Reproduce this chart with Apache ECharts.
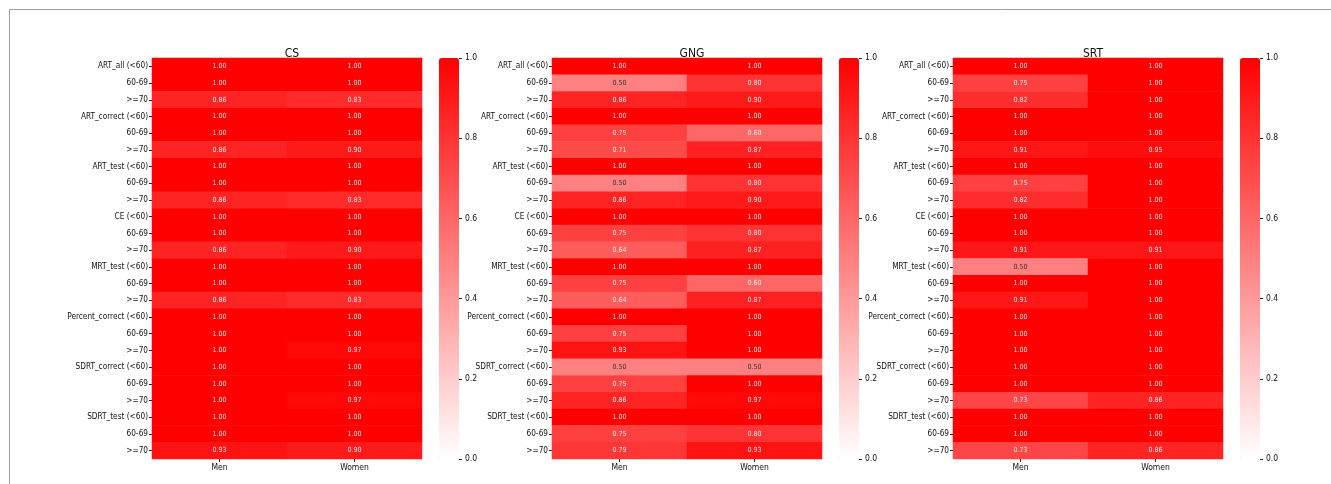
<!DOCTYPE html>
<html lang="en">
<head>
    <meta charset="UTF-8">
    <title>CS / GNG / SRT heatmaps</title>
    <style>
        body { margin: 0; background: #fff; }
        #chart { width: 1331px; height: 484px; }
    </style>
    <script src="https://cdn.jsdelivr.net/npm/echarts/dist/echarts.min.js"></script>
</head>
<body>
<div id="chart"></div>
<script>
    // Data
    var rowLabels = [
        'ART_all (<60)', '60-69', '>=70',
        'ART_correct (<60)', '60-69', '>=70',
        'ART_test (<60)', '60-69', '>=70',
        'CE (<60)', '60-69', '>=70',
        'MRT_test (<60)', '60-69', '>=70',
        'Percent_correct (<60)', '60-69', '>=70',
        'SDRT_correct (<60)', '60-69', '>=70',
        'SDRT_test (<60)', '60-69', '>=70'
    ];
    var sexes = ['Men', 'Women'];
    var panelTitles = ['CS', 'GNG', 'SRT'];

    var csMen   = [1, 1, 0.86, 1, 1, 0.86, 1, 1, 0.86, 1, 1, 0.86, 1, 1, 0.86, 1, 1, 1, 1, 1, 1, 1, 1, 0.93];
    var csWomen = [1, 1, 0.83, 1, 1, 0.90, 1, 1, 0.83, 1, 1, 0.90, 1, 1, 0.83, 1, 1, 0.97, 1, 1, 0.97, 1, 1, 0.90];
    var gngMen   = [1, 0.50, 0.86, 1, 0.75, 0.71, 1, 0.50, 0.86, 1, 0.75, 0.64, 1, 0.75, 0.64, 1, 0.75, 0.93, 0.50, 0.75, 0.86, 1, 0.75, 0.79];
    var gngWomen = [1, 0.80, 0.90, 1, 0.60, 0.87, 1, 0.80, 0.90, 1, 0.80, 0.87, 1, 0.60, 0.87, 1, 1, 1, 0.50, 1, 0.97, 1, 0.80, 0.93];
    var srtMen   = [1, 0.75, 0.82, 1, 1, 0.91, 1, 0.75, 0.82, 1, 1, 0.91, 0.50, 1, 0.91, 1, 1, 1, 1, 1, 0.73, 1, 1, 0.73];
    var srtWomen = [1, 1, 1, 1, 1, 0.95, 1, 1, 1, 1, 1, 0.91, 1, 1, 1, 1, 1, 1, 1, 1, 0.86, 1, 1, 0.86];

    var panelValues = [[csMen, csWomen], [gngMen, gngWomen], [srtMen, srtWomen]];
    var cbTicks = [0, 0.2, 0.4, 0.6, 0.8, 1.0];

    var font = '"DejaVu Sans Condensed", "DejaVu Sans", sans-serif';
    var panelLeft = [152, 552, 953];
    var cellW = 270, gridTop = 58, gridH = 401;

    var grids = [], xAxes = [], yAxes = [], series = [], visualMaps = [], titles = [];

    panelValues.forEach(function (cols, p) {
        var left = panelLeft[p];
        var cbLeft = left + cellW + 17;

        // heatmap grid
        grids.push({ left: left, top: gridTop, width: cellW, height: gridH });
        xAxes.push({
            type: 'category', gridIndex: p * 2, data: sexes, position: 'bottom',
            axisLine: { show: false },
            axisTick: { show: true, alignWithLabel: true, length: 3, lineStyle: { color: '#222' } },
            axisLabel: { fontFamily: font, fontSize: 8.5, color: '#111', margin: 4 },
            splitLine: { show: false }
        });
        yAxes.push({
            type: 'category', gridIndex: p * 2, data: rowLabels, inverse: true,
            axisLine: { show: false },
            axisTick: { show: true, alignWithLabel: true, length: 3, lineStyle: { color: '#222' } },
            axisLabel: { fontFamily: font, fontSize: 8.2, color: '#111', margin: 4, interval: 0 },
            splitLine: { show: false }
        });

        // colorbar tick grid
        grids.push({ left: cbLeft, top: gridTop, width: 20, height: gridH });
        xAxes.push({ type: 'value', gridIndex: p * 2 + 1, show: false, min: 0, max: 1 });
        yAxes.push({
            type: 'value', gridIndex: p * 2 + 1, min: 0, max: 1, interval: 0.2, position: 'right',
            axisLine: { show: false, onZero: false },
            axisTick: { show: true, length: 3, lineStyle: { color: '#222' } },
            axisLabel: {
                fontFamily: font, fontSize: 8.5, color: '#111', margin: 6,
                formatter: function (v) { return v.toFixed(1); }
            },
            splitLine: { show: false }
        });

        var data = [];
        cols.forEach(function (vals, ci) {
            vals.forEach(function (v, ri) {
                // dark text on light cells, like seaborn annotations
                data.push({ value: [ci, ri, v], label: { color: v <= 0.55 ? '#333' : 'rgba(255,255,255,0.92)' } });
            });
        });

        series.push({
            type: 'heatmap', xAxisIndex: p * 2, yAxisIndex: p * 2, data: data,
            label: {
                show: true, fontFamily: font, fontSize: 7,
                formatter: function (d) { return d.value[2].toFixed(2); }
            },
            emphasis: { disabled: true }
        });
        // invisible series so the colorbar grid gets its axes drawn
        series.push({
            type: 'scatter', xAxisIndex: p * 2 + 1, yAxisIndex: p * 2 + 1,
            data: cbTicks.map(function (t) { return [0.5, t]; }), symbolSize: 0, silent: true
        });

        visualMaps.push({
            type: 'continuous', seriesIndex: p * 2, min: 0, max: 1,
            inRange: { color: ['#ffffff', '#ff0000'] },
            left: cbLeft, top: gridTop, itemWidth: 20, itemHeight: gridH,
            padding: 0, showLabel: false, calculable: false, hoverLink: false
        });

        titles.push({
            text: panelTitles[p], left: left + cellW / 2, top: gridTop - 15, textAlign: 'center',
            textStyle: { fontFamily: font, fontSize: 12, fontWeight: 'normal', color: '#111' }
        });
    });

    var chart = echarts.init(document.getElementById('chart'), null, { renderer: 'canvas' });
    chart.setOption({
        animation: false,
        backgroundColor: '#fff',
        title: titles,
        grid: grids,
        xAxis: xAxes,
        yAxis: yAxes,
        visualMap: visualMaps,
        series: series,
        graphic: [{
            type: 'rect', silent: true, z: -10,
            shape: { x: 9.5, y: 9.5, width: 1400, height: 600 },
            style: { fill: 'none', stroke: '#a0a0a0', lineWidth: 1 }
        }]
    });
</script>
</body>
</html>
